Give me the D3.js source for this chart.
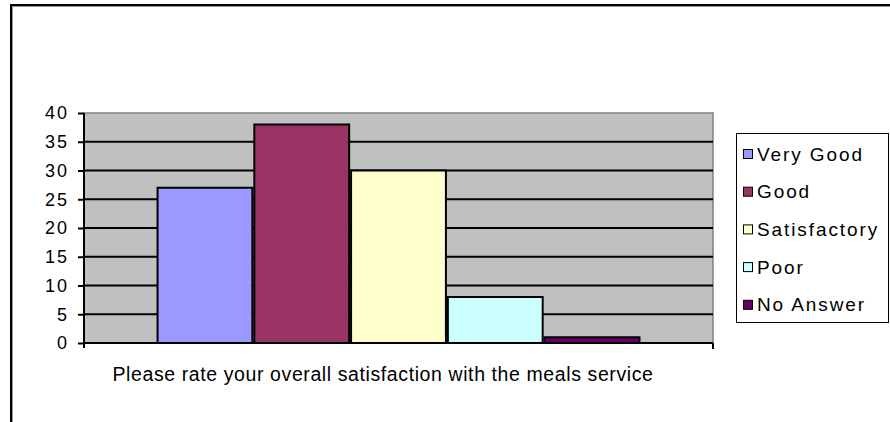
<!DOCTYPE html>
<html>
<head>
<meta charset="utf-8">
<script src="https://cdn.jsdelivr.net/npm/d3@7"></script>
<style>
  body { margin: 0; background: #fff; }
  text { font-family: "Liberation Sans", Arial, sans-serif; }
</style>
</head>
<body>
<div id="chart"></div>
<script>
// chart data
var categories = ["Please rate your overall satisfaction with the meals service"];
var seriesNames = ["Very Good", "Good", "Satisfactory", "Poor", "No Answer"];
var seriesValues = [27, 38, 30, 8, 1];
var seriesColors = ["#9999ff", "#993366", "#ffffcc", "#ccffff", "#660066"];
var yTicks = [0, 5, 10, 15, 20, 25, 30, 35, 40];

var W = 890, H = 422;
var plot = {left: 84, right: 713, top: 113, bottom: 343};

var svg = d3.select("#chart")
  .append("svg")
    .attr("width", W)
    .attr("height", H);

// outer frame (runs off the right and bottom edges)
svg.append("path")
  .attr("d", "M11,430 V5 H900")
  .attr("fill", "none")
  .attr("stroke", "#000")
  .attr("stroke-width", 2);
svg.append("path")
  .attr("d", "M12.5,430 V6.5 H900")
  .attr("fill", "none")
  .attr("stroke", "#999")
  .attr("stroke-width", 1);

// scales
var y = d3.scaleLinear().domain([0, 40]).range([plot.bottom, plot.top]);
var x = d3.scaleBand()
  .domain(seriesNames)
  .range([plot.left, plot.right])
  .paddingInner(0.02)
  .paddingOuter(0.76);

// plot background
svg.append("rect")
  .attr("x", plot.left)
  .attr("y", plot.top)
  .attr("width", plot.right - plot.left)
  .attr("height", plot.bottom - plot.top)
  .attr("fill", "#c0c0c0")
  .attr("stroke", "#808080")
  .attr("stroke-width", 1.5);

// gridlines
svg.selectAll(".grid")
  .data(yTicks.filter(function(d) { return d > 0 && d < 40; }))
  .enter()
  .append("line")
    .attr("x1", plot.left)
    .attr("x2", plot.right)
    .attr("y1", function(d) { return y(d); })
    .attr("y2", function(d) { return y(d); })
    .attr("stroke", "#000")
    .attr("stroke-width", 2);

// bars
svg.selectAll(".bar")
  .data(seriesValues)
  .enter()
  .append("rect")
    .attr("x", function(d, i) { return x(seriesNames[i]); })
    .attr("y", function(d) { return y(d); })
    .attr("width", x.bandwidth())
    .attr("height", function(d) { return y(0) - y(d); })
    .attr("fill", function(d, i) { return seriesColors[i]; })
    .attr("stroke", "#000")
    .attr("stroke-width", 2);

// y axis
var yAxis = svg.append("g")
  .attr("transform", "translate(" + plot.left + ",0)")
  .call(d3.axisLeft(y).tickValues(yTicks).tickSize(6).tickPadding(9));
yAxis.select(".domain").attr("d", "M0," + (plot.top) + "V" + (plot.bottom + 5)).attr("stroke-width", 2);
yAxis.selectAll(".tick line").attr("stroke-width", 2);
yAxis.selectAll("text")
  .style("font-size", "18px")
  .style("letter-spacing", "2px")
  .attr("fill", "#000");

// x axis
var xAxis = svg.append("g")
  .attr("transform", "translate(0," + plot.bottom + ")");
xAxis.append("line")
  .attr("x1", plot.left).attr("x2", plot.right)
  .attr("stroke", "#000").attr("stroke-width", 2);
xAxis.append("line")
  .attr("x1", plot.right).attr("x2", plot.right)
  .attr("y1", 0).attr("y2", 6)
  .attr("stroke", "#000").attr("stroke-width", 2);
xAxis.append("text")
  .attr("x", 383)
  .attr("y", 38)
  .attr("text-anchor", "middle")
  .style("font-size", "19.5px")
  .style("letter-spacing", "0.6px")
  .text(categories[0]);

// legend
var legend = svg.append("g");
legend.append("rect")
  .attr("x", 736.5).attr("y", 133.5)
  .attr("width", 152).attr("height", 189)
  .attr("fill", "#fff")
  .attr("stroke", "#000");

var items = legend.selectAll(".item")
  .data(seriesNames)
  .enter()
  .append("g")
    .attr("transform", function(d, i) { return "translate(743," + (154 + i * 37.7) + ")"; });
items.append("rect")
  .attr("x", 0.5).attr("y", -4.5)
  .attr("width", 9).attr("height", 9)
  .attr("fill", function(d, i) { return seriesColors[i]; })
  .attr("stroke", "#000");
items.append("text")
  .attr("x", 14)
  .attr("dy", "0.35em")
  .style("font-size", "19px")
  .style("letter-spacing", "1.9px")
  .text(function(d) { return d; });
</script>
</body>
</html>
